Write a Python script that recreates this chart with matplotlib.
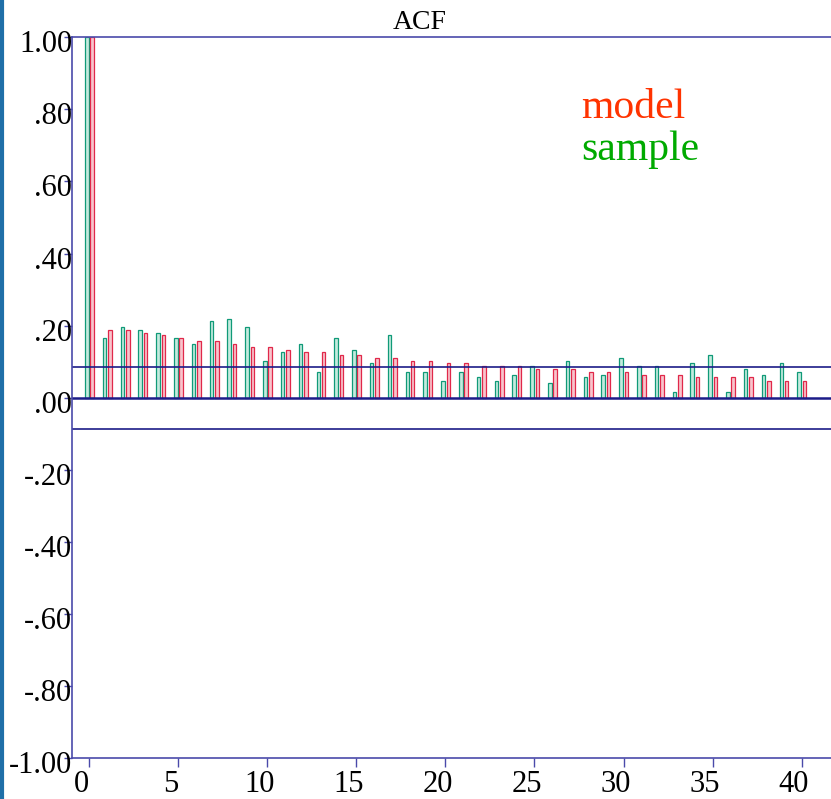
import matplotlib
matplotlib.use("Agg")
import matplotlib.pyplot as plt
import matplotlib.transforms as mtrans
import numpy as np

# ACF values, lags 0..40
lags = np.arange(41)
sample = [1.0, 0.165, 0.196, 0.188, 0.180, 0.165, 0.150, 0.212, 0.219, 0.196,
          0.102, 0.126, 0.149, 0.071, 0.165, 0.132, 0.095, 0.173, 0.071, 0.071,
          0.046, 0.071, 0.056, 0.046, 0.063, 0.087, 0.040, 0.102, 0.056, 0.063,
          0.110, 0.087, 0.087, 0.016, 0.095, 0.119, 0.016, 0.080, 0.063, 0.095,
          0.071]
model = [1.0, 0.188, 0.188, 0.180, 0.173, 0.165, 0.157, 0.157, 0.149, 0.141,
         0.141, 0.132, 0.126, 0.126, 0.119, 0.119, 0.110, 0.110, 0.102, 0.102,
         0.095, 0.095, 0.087, 0.087, 0.087, 0.080, 0.080, 0.080, 0.071, 0.071,
         0.071, 0.063, 0.063, 0.063, 0.056, 0.056, 0.056, 0.056, 0.046, 0.046,
         0.046]
bound = 0.086
yticks = [1.0, 0.8, 0.6, 0.4, 0.2, 0.0, -0.2, -0.4, -0.6, -0.8, -1.0]
ylabels = ["1.00", ".80", ".60", ".40", ".20", ".00", "-.20", "-.40", "-.60", "-.80", "-1.00"]
xticks = [0, 5, 10, 15, 20, 25, 30, 35, 40]

plt.rcParams['font.family'] = ['Liberation Serif', 'DejaVu Serif']

fig = plt.figure(figsize=(8.31, 7.99), dpi=100)
ax = fig.add_axes([72/831, 1-758/799, 1-72/831, (758-37.3)/799])

axcol = '#4a4aaa'
ax.bar(lags - 0.14, sample, width=0.2, color='#c4ebde', edgecolor='#109a78', linewidth=0.9)
ax.bar(lags + 0.16, model, width=0.2, color='#f8c4cc', edgecolor='#e0284a', linewidth=0.9)

ax.axhline(0, color='#1c1c88', lw=1.8)
ax.axhline(bound, color='#1c1c88', lw=1.2)
ax.axhline(-bound, color='#1c1c88', lw=1.2)

ax.set_xlim(-0.97, 41.65)
ax.set_ylim(-1, 1)
ax.set_yticks(yticks)
ax.set_yticklabels(ylabels)
ax.set_xticks(xticks)
for s in ['left', 'top', 'bottom']:
    ax.spines[s].set_color(axcol)
    ax.spines[s].set_linewidth(1.2)
ax.spines['right'].set_visible(False)
ax.tick_params(axis='y', direction='out', length=6, width=1, color=axcol,
               labelsize=22, pad=-6)
ax.tick_params(axis='x', direction='out', length=6.5, width=1, color=axcol,
               labelsize=22, pad=2)

# labels in the reference sit a little off their ticks
dx = mtrans.ScaledTranslation(-8/100, 0, fig.dpi_scale_trans)
for lab in ax.get_xticklabels():
    lab.set_transform(lab.get_transform() + dx)
dy = mtrans.ScaledTranslation(0, -4/100, fig.dpi_scale_trans)
for lab in ax.get_yticklabels():
    lab.set_transform(lab.get_transform() + dy)

fig.text(420/831, 1-29/799, "ACF", ha='center', va='baseline', fontsize=20)
fig.text(581/831, 1-118/799, "model", color='#ff3300', fontsize=30, va='baseline')
fig.text(581/831, 1-160/799, "sample", color='#00aa00', fontsize=30, va='baseline')

# left border of the frame
fig.add_artist(plt.Line2D([2/831, 2/831], [0, 1], transform=fig.transFigure,
                          color='#1f6fa8', lw=3))

fig.savefig("out.png", dpi=100)
